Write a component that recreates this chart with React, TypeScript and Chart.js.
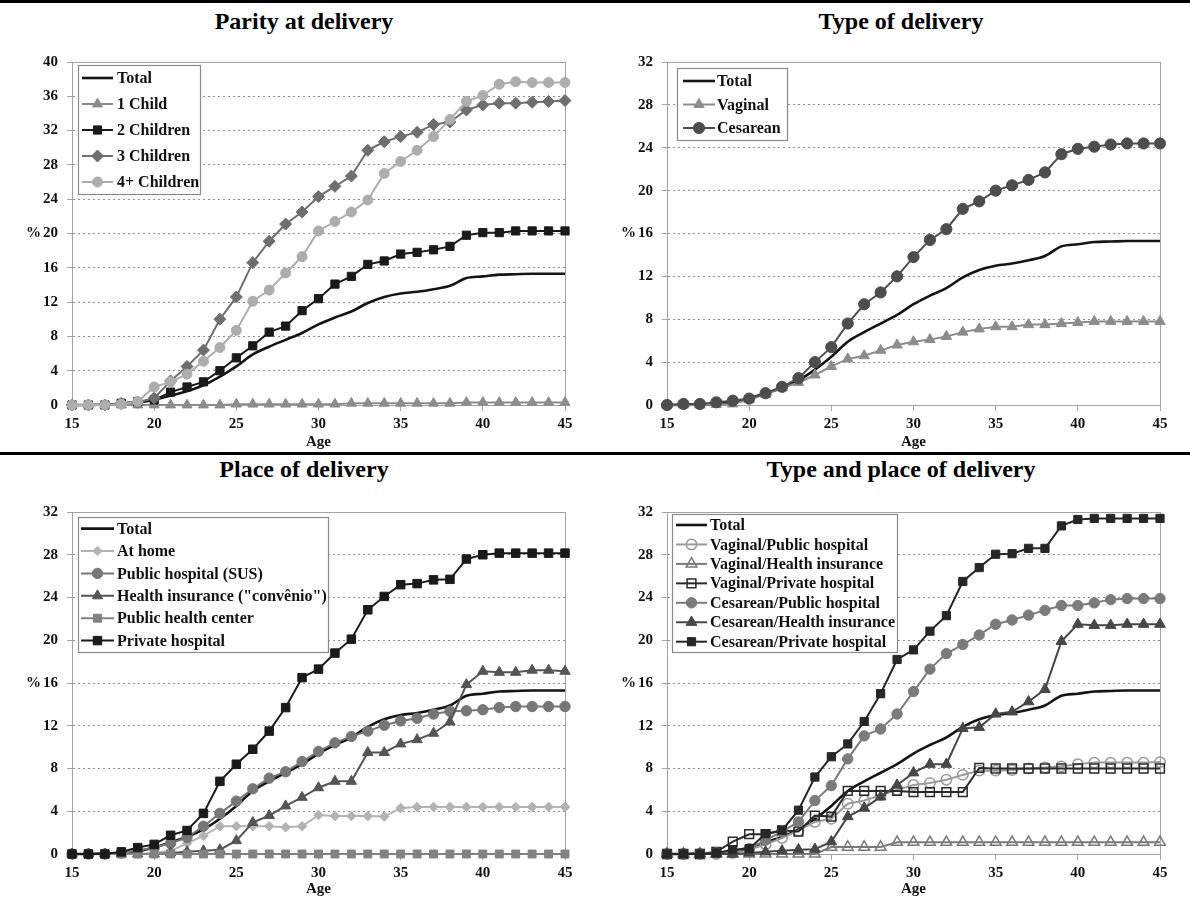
import React, { useEffect, useRef } from 'react';
import { Chart, registerables } from 'chart.js';

Chart.register(...registerables);

const FONT = "'Liberation Serif', 'Times New Roman', serif";

// ---------- data ----------
const AGES = [15, 16, 17, 18, 19, 20, 21, 22, 23, 24, 25, 26, 27, 28, 29, 30, 31, 32, 33, 34, 35, 36, 37, 38, 39, 40, 41, 42, 43, 44, 45];
const X_TICK_STEP = 5;

const TOTAL = [0, 0, 0.05, 0.1, 0.25, 0.6, 1.1, 1.6, 2.3, 3.3, 4.5, 5.9, 6.8, 7.6, 8.4, 9.4, 10.2, 10.9, 11.9, 12.6, 13.0, 13.2, 13.5, 13.9, 14.8, 15.0, 15.2, 15.25, 15.3, 15.3, 15.3];

// Parity at delivery
const ONE_CHILD = [0, 0, 0, 0, 0, 0, 0, 0, 0, 0, 0.1, 0.1, 0.1, 0.1, 0.1, 0.1, 0.1, 0.2, 0.2, 0.2, 0.2, 0.2, 0.2, 0.2, 0.3, 0.3, 0.3, 0.3, 0.3, 0.3, 0.3];
const TWO_CHILDREN = [0, 0, 0, 0.2, 0.4, 0.6, 1.5, 2.1, 2.7, 4.0, 5.5, 6.9, 8.5, 9.2, 11.0, 12.4, 14.1, 15.0, 16.4, 16.8, 17.6, 17.8, 18.1, 18.5, 19.8, 20.1, 20.1, 20.3, 20.3, 20.3, 20.3];
const THREE_CHILDREN = [0, 0, 0, 0.2, 0.3, 0.8, 2.8, 4.5, 6.4, 10.0, 12.6, 16.6, 19.1, 21.1, 22.5, 24.3, 25.5, 26.7, 29.7, 30.7, 31.3, 31.8, 32.7, 33.0, 34.4, 35.0, 35.2, 35.2, 35.3, 35.4, 35.5];
const FOUR_PLUS = [0, 0, 0, 0.1, 0.4, 2.1, 2.7, 3.6, 5.1, 6.7, 8.7, 12.1, 13.4, 15.4, 17.3, 20.3, 21.4, 22.5, 23.9, 27.0, 28.4, 29.7, 31.3, 33.3, 35.4, 36.1, 37.4, 37.7, 37.6, 37.6, 37.6];

// Type of delivery
const VAGINAL = [0, 0, 0, 0.05, 0.1, 0.5, 1.0, 1.6, 2.1, 2.8, 3.6, 4.3, 4.6, 5.1, 5.6, 5.9, 6.1, 6.4, 6.8, 7.1, 7.3, 7.3, 7.5, 7.5, 7.6, 7.7, 7.8, 7.8, 7.8, 7.8, 7.8];
const CESAREAN = [0, 0.1, 0.1, 0.25, 0.4, 0.6, 1.1, 1.7, 2.5, 4.0, 5.4, 7.6, 9.4, 10.5, 12.0, 13.8, 15.4, 16.4, 18.3, 19.0, 20.0, 20.5, 21.0, 21.7, 23.4, 23.9, 24.1, 24.3, 24.4, 24.4, 24.4];

// Place of delivery
const AT_HOME = [0, 0, 0, 0, 0, 0.1, 0.3, 1.0, 1.7, 2.6, 2.6, 2.6, 2.6, 2.5, 2.6, 3.65, 3.55, 3.55, 3.55, 3.5, 4.3, 4.4, 4.4, 4.4, 4.4, 4.4, 4.4, 4.4, 4.4, 4.4, 4.4];
const PUBLIC_SUS = [0, 0, 0, 0.1, 0.3, 0.6, 1.0, 1.55, 2.6, 3.8, 4.95, 6.1, 7.1, 7.7, 8.65, 9.6, 10.4, 11.0, 11.5, 12.05, 12.45, 12.7, 13.1, 13.35, 13.4, 13.5, 13.7, 13.8, 13.8, 13.8, 13.8];
const HEALTH_INSURANCE = [0, 0, 0, 0, 0, 0, 0.1, 0.2, 0.3, 0.4, 1.25, 2.95, 3.6, 4.5, 5.3, 6.2, 6.8, 6.8, 9.5, 9.5, 10.3, 10.7, 11.3, 12.35, 15.85, 17.1, 17.0, 17.0, 17.2, 17.2, 17.1];
const HEALTH_CENTER = [0, 0, 0, 0, 0, 0, 0, 0, 0, 0, 0, 0, 0, 0, 0, 0, 0, 0, 0, 0, 0, 0, 0, 0, 0, 0, 0, 0, 0, 0, 0];
const PRIVATE_HOSPITAL = [0, 0, 0, 0.2, 0.6, 0.9, 1.75, 2.2, 3.8, 6.8, 8.4, 9.8, 11.5, 13.7, 16.5, 17.3, 18.8, 20.1, 22.85, 24.1, 25.2, 25.3, 25.65, 25.7, 27.6, 28.0, 28.15, 28.15, 28.15, 28.15, 28.15];

// Type and place of delivery
const V_PUBLIC = [0, 0, 0, 0, 0.1, 0.4, 0.9, 1.5, 2.2, 3.0, 3.3, 4.7, 5.0, 5.5, 6.0, 6.45, 6.65, 6.95, 7.4, 7.8, 7.8, 7.85, 8.0, 8.1, 8.2, 8.4, 8.55, 8.55, 8.55, 8.55, 8.6];
const V_HEALTH = [0, 0, 0, 0, 0, 0, 0, 0, 0, 0, 0.65, 0.65, 0.65, 0.65, 1.1, 1.1, 1.1, 1.1, 1.1, 1.1, 1.1, 1.1, 1.1, 1.1, 1.1, 1.1, 1.1, 1.1, 1.1, 1.1, 1.1];
const V_PRIVATE = [0, 0, 0, 0.2, 1.15, 1.85, 1.85, 2.2, 2.1, 3.6, 3.5, 5.9, 5.9, 5.9, 5.9, 5.8, 5.8, 5.8, 5.8, 8.05, 8.0, 8.0, 8.0, 8.0, 8.0, 8.0, 8.0, 8.0, 8.0, 8.0, 8.0];
const C_PUBLIC = [0, 0, 0.05, 0.1, 0.2, 0.5, 1.3, 2.1, 3.0, 5.0, 6.4, 8.9, 11.05, 11.7, 13.1, 15.2, 17.3, 18.75, 19.6, 20.5, 21.5, 21.9, 22.35, 22.8, 23.25, 23.25, 23.5, 23.8, 23.9, 23.9, 23.9];
const C_HEALTH = [0, 0, 0, 0, 0, 0.1, 0.2, 0.3, 0.4, 0.45, 1.15, 3.5, 4.3, 5.35, 6.45, 7.6, 8.4, 8.4, 11.75, 11.85, 13.1, 13.3, 14.25, 15.4, 19.9, 21.5, 21.4, 21.4, 21.5, 21.5, 21.5];
const C_PRIVATE = [0, 0, 0, 0.1, 0.4, 0.5, 1.9, 2.2, 4.1, 7.2, 9.1, 10.3, 12.4, 15.0, 18.2, 19.1, 20.85, 22.3, 25.5, 26.8, 28.05, 28.1, 28.6, 28.6, 30.7, 31.3, 31.4, 31.4, 31.4, 31.4, 31.4];

const PANEL_TITLES = ['Parity at delivery', 'Type of delivery', 'Place of delivery', 'Type and place of delivery'];
const Y_MAX = [40, 32, 32, 32];
const Y_STEP = 4;

// ---------- types ----------
type Series = {
  label: string;
  data: number[];
  color: string;
  style: string | null;
  radius: number;
  open?: boolean;
  width?: number;
  tension?: number;
};
type LegendSpec = { bx: number; by: number; bw: number; bh: number; first: number; gap: number; lx: number; llen: number; tx: number };
type PanelSpec = {
  left: number; top: number; w: number; h: number;
  padTop: number; xHeight: number; yMax: number; title: string;
  series: Series[]; legend: LegendSpec;
};

const totalSeries = (): Series => ({ label: 'Total', data: TOTAL, color: '#141414', style: null, radius: 0, width: 2.6, tension: 0.35 });

function drawMarker(ctx: CanvasRenderingContext2D, style: string, x: number, y: number, r: number, fill: string, stroke: string, lw: number) {
  ctx.beginPath();
  if (style === 'circle') {
    ctx.arc(x, y, r, 0, Math.PI * 2);
  } else if (style === 'triangle') {
    let a = 0;
    ctx.moveTo(x + Math.sin(a) * r, y - Math.cos(a) * r);
    a += (2 * Math.PI) / 3;
    ctx.lineTo(x + Math.sin(a) * r, y - Math.cos(a) * r);
    a += (2 * Math.PI) / 3;
    ctx.lineTo(x + Math.sin(a) * r, y - Math.cos(a) * r);
    ctx.closePath();
  } else if (style === 'rect') {
    const s = Math.SQRT1_2 * r;
    ctx.rect(x - s, y - s, 2 * s, 2 * s);
  } else if (style === 'rectRot') {
    ctx.moveTo(x - r, y);
    ctx.lineTo(x, y - r);
    ctx.lineTo(x + r, y);
    ctx.lineTo(x, y + r);
    ctx.closePath();
  }
  ctx.fillStyle = fill;
  ctx.fill();
  ctx.lineWidth = lw;
  ctx.strokeStyle = stroke;
  ctx.stroke();
}

function buildConfig(spec: PanelSpec): any {
  const n = spec.series.length;
  const datasets = spec.series.map((s, i) => ({
    label: s.label,
    data: AGES.map((x, k) => ({ x, y: s.data[k] })),
    borderColor: s.color,
    backgroundColor: s.color,
    borderWidth: s.width ?? 2,
    pointStyle: s.style || 'circle',
    pointRadius: s.style ? s.radius : 0,
    pointBorderColor: s.color,
    pointBackgroundColor: s.open ? 'rgba(0,0,0,0)' : s.color,
    pointBorderWidth: s.open ? 1.5 : 1,
    tension: s.tension ?? 0,
    clip: false,
    order: n - i,
  }));

  const framePlugin = {
    id: 'frameLegend',
    beforeDatasetsDraw(chart: any) {
      const { ctx, chartArea: a } = chart;
      ctx.save();
      ctx.strokeStyle = '#a3a3a3';
      ctx.lineWidth = 1;
      ctx.strokeRect(Math.round(a.left) + 0.5, Math.round(a.top) + 0.5, Math.round(a.right - a.left), Math.round(a.bottom - a.top));
      // "%" axis caption
      ctx.fillStyle = '#111';
      ctx.font = `bold 15px ${FONT}`;
      ctx.textAlign = 'right';
      ctx.textBaseline = 'middle';
      ctx.fillText('%', a.left - 31, chart.scales.y.getPixelForValue(spec.yMax / 2));
      ctx.restore();
    },
    afterDatasetsDraw(chart: any) {
      const { ctx, chartArea: a } = chart;
      const L = spec.legend;
      ctx.save();
      const bx = Math.round(a.left + L.bx) + 0.5;
      const by = Math.round(a.top + L.by) + 0.5;
      ctx.fillStyle = '#ffffff';
      ctx.fillRect(bx, by, L.bw, L.bh);
      ctx.strokeStyle = '#8a8a8a';
      ctx.lineWidth = 1.2;
      ctx.strokeRect(bx, by, L.bw, L.bh);
      spec.series.forEach((s, i) => {
        const y = a.top + L.first + i * L.gap;
        const x0 = a.left + L.lx;
        ctx.beginPath();
        ctx.moveTo(x0, y);
        ctx.lineTo(x0 + L.llen, y);
        ctx.strokeStyle = s.color;
        ctx.lineWidth = s.width ?? 2;
        ctx.stroke();
        if (s.style) {
          drawMarker(ctx, s.style, x0 + L.llen / 2, y, s.radius, s.open ? 'rgba(0,0,0,0)' : s.color, s.color, s.open ? 1.5 : 1);
        }
        ctx.fillStyle = '#111';
        ctx.font = `bold 16px ${FONT}`;
        ctx.textAlign = 'left';
        ctx.textBaseline = 'middle';
        ctx.fillText(s.label, a.left + L.tx, y + 1);
      });
      ctx.restore();
    },
  };

  const tickFont = { family: FONT, size: 15, weight: 'bold' as const };

  return {
    type: 'line',
    data: { datasets },
    plugins: [framePlugin],
    options: {
      animation: false,
      responsive: false,
      maintainAspectRatio: false,
      events: [],
      layout: { padding: { top: spec.padTop, right: 30, left: 0, bottom: 0 } },
      plugins: { legend: { display: false }, tooltip: { enabled: false }, title: { display: false } },
      scales: {
        x: {
          type: 'linear',
          min: AGES[0],
          max: AGES[AGES.length - 1],
          ticks: { stepSize: X_TICK_STEP, color: '#111', font: tickFont, padding: 4, maxRotation: 0, autoSkip: false },
          grid: { drawOnChartArea: false, drawTicks: true, tickLength: 6, color: '#a3a3a3' },
          border: { color: '#a3a3a3' },
          title: { display: true, text: 'Age', color: '#111', font: tickFont, padding: { top: 0, bottom: 1 } },
          afterFit: (s: any) => { s.height = spec.xHeight; },
        },
        y: {
          min: 0,
          max: spec.yMax,
          ticks: { stepSize: Y_STEP, color: '#111', font: tickFont, padding: 9 },
          grid: { color: '#8f8f8f', lineWidth: 1, tickLength: 5, tickColor: '#a3a3a3', tickBorderDash: [] },
          border: { color: '#a3a3a3', dash: [2, 3] },
          afterFit: (s: any) => { s.width = 72; },
        },
      },
    },
  };
}

const PANELS: PanelSpec[] = [
  {
    left: 0, top: 40, w: 595, h: 412, padTop: 22, xHeight: 47, yMax: Y_MAX[0], title: PANEL_TITLES[0],
    series: [
      totalSeries(),
      { label: '1 Child', data: ONE_CHILD, color: '#8c8c8c', style: 'triangle', radius: 5.8 },
      { label: '2 Children', data: TWO_CHILDREN, color: '#1a1a1a', style: 'rect', radius: 5.8 },
      { label: '3 Children', data: THREE_CHILDREN, color: '#6e6e6e', style: 'rectRot', radius: 6 },
      { label: '4+ Children', data: FOUR_PLUS, color: '#adadad', style: 'circle', radius: 5 },
    ],
    legend: { bx: 6, by: 3, bw: 122, bh: 129, first: 16, gap: 26, lx: 10, llen: 31, tx: 45 },
  },
  {
    left: 595, top: 40, w: 595, h: 412, padTop: 22, xHeight: 47, yMax: Y_MAX[1], title: PANEL_TITLES[1],
    series: [
      totalSeries(),
      { label: 'Vaginal', data: VAGINAL, color: '#8c8c8c', style: 'triangle', radius: 6 },
      { label: 'Cesarean', data: CESAREAN, color: '#4d4d4d', style: 'circle', radius: 5.6 },
    ],
    legend: { bx: 10, by: 6, bw: 110, bh: 72, first: 19, gap: 23.5, lx: 16, llen: 32, tx: 50 },
  },
  {
    left: 0, top: 490, w: 595, h: 409, padTop: 22, xHeight: 45, yMax: Y_MAX[2], title: PANEL_TITLES[2],
    series: [
      totalSeries(),
      { label: 'At home', data: AT_HOME, color: '#b3b3b3', style: 'rectRot', radius: 4.8 },
      { label: 'Public hospital (SUS)', data: PUBLIC_SUS, color: '#767676', style: 'circle', radius: 5.2 },
      { label: 'Health insurance ("convênio")', data: HEALTH_INSURANCE, color: '#555555', style: 'triangle', radius: 6 },
      { label: 'Public health center', data: HEALTH_CENTER, color: '#828282', style: 'rect', radius: 5.6 },
      { label: 'Private hospital', data: PRIVATE_HOSPITAL, color: '#1a1a1a', style: 'rect', radius: 6 },
    ],
    legend: { bx: 6, by: 5, bw: 250, bh: 135, first: 16.6, gap: 22.4, lx: 9, llen: 33, tx: 45 },
  },
  {
    left: 595, top: 490, w: 595, h: 409, padTop: 22, xHeight: 45, yMax: Y_MAX[3], title: PANEL_TITLES[3],
    series: [
      totalSeries(),
      { label: 'Vaginal/Public hospital', data: V_PUBLIC, color: '#9a9a9a', style: 'circle', radius: 5.2, open: true },
      { label: 'Vaginal/Health insurance', data: V_HEALTH, color: '#7a7a7a', style: 'triangle', radius: 6.2, open: true },
      { label: 'Vaginal/Private hospital', data: V_PRIVATE, color: '#2a2a2a', style: 'rect', radius: 6.2, open: true },
      { label: 'Cesarean/Public hospital', data: C_PUBLIC, color: '#7b7b7b', style: 'circle', radius: 5.2 },
      { label: 'Cesarean/Health insurance', data: C_HEALTH, color: '#474747', style: 'triangle', radius: 6.2 },
      { label: 'Cesarean/Private hospital', data: C_PRIVATE, color: '#262626', style: 'rect', radius: 5.8 },
    ],
    legend: { bx: 5, by: 2, bw: 225, bh: 138, first: 13, gap: 19.45, lx: 9, llen: 31, tx: 43 },
  },
];

function Panel({ spec }: { spec: PanelSpec }) {
  const ref = useRef<HTMLCanvasElement | null>(null);
  useEffect(() => {
    if (!ref.current) return;
    const chart = new Chart(ref.current, buildConfig(spec));
    return () => chart.destroy();
  }, [spec]);
  return (
    <canvas
      ref={ref}
      width={spec.w}
      height={spec.h}
      style={{ position: 'absolute', left: spec.left, top: spec.top, width: spec.w, height: spec.h }}
    />
  );
}

const titleStyle = (left: number, width: number, top: number): React.CSSProperties => ({
  position: 'absolute', left, width, top, textAlign: 'center',
  font: `bold 24px ${FONT}`, lineHeight: '24px', color: '#000', whiteSpace: 'nowrap',
});

export default function App() {
  return (
    <div style={{ position: 'absolute', left: 0, top: 0, width: 1190, height: 899, background: '#fff', overflow: 'hidden' }}>
      <div style={{ position: 'absolute', left: 0, top: 0, width: 1190, height: 3, background: '#000' }} />
      <div style={{ position: 'absolute', left: 0, top: 452, width: 1190, height: 3, background: '#000' }} />
      <div style={titleStyle(0, 608, 9)}>{PANEL_TITLES[0]}</div>
      <div style={titleStyle(602, 598, 9)}>{PANEL_TITLES[1]}</div>
      <div style={titleStyle(0, 608, 457)}>{PANEL_TITLES[2]}</div>
      <div style={titleStyle(602, 598, 457)}>{PANEL_TITLES[3]}</div>
      {PANELS.map((p, i) => (
        <Panel key={i} spec={p} />
      ))}
    </div>
  );
}
